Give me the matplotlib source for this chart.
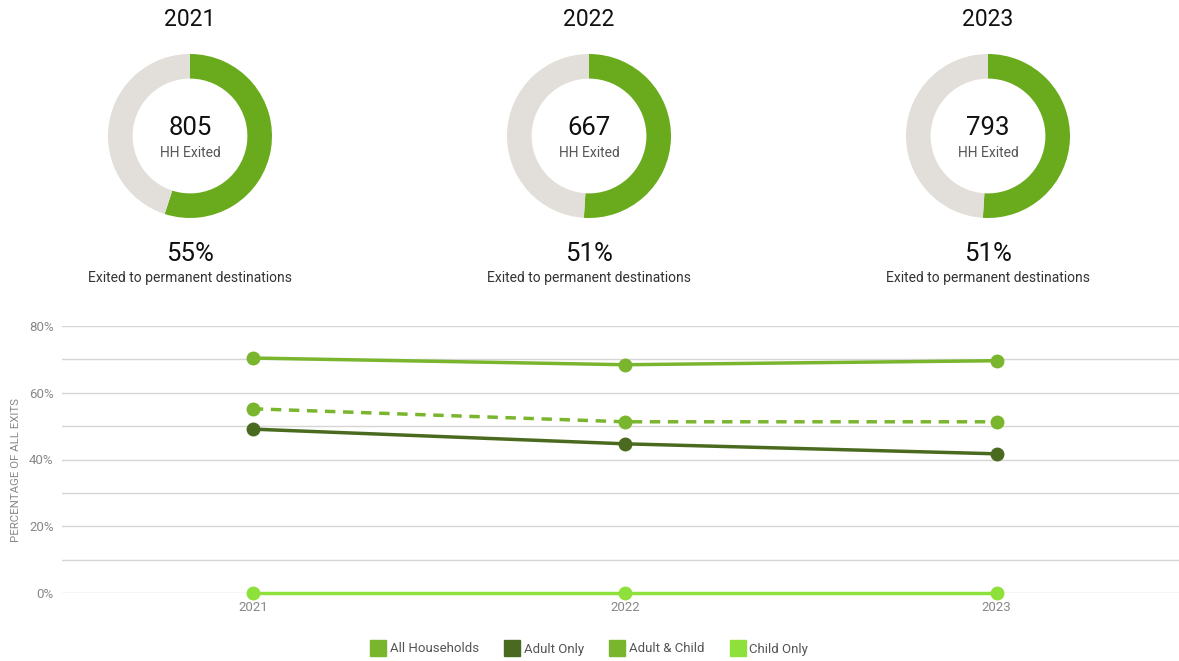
import numpy as np
import matplotlib.pyplot as plt
from matplotlib.lines import Line2D

plt.rcParams['font.family'] = ['Roboto', 'DejaVu Sans']

years = ['2021', '2022', '2023']
hh_exited = [805, 667, 793]
pct_permanent = [55, 51, 51]

all_households = [55.2, 51.3, 51.3]
adult_only = [49.1, 44.7, 41.7]
adult_child = [70.4, 68.4, 69.6]
child_only = [0, 0, 0]

green = '#6aab1e'
grey_ring = '#e2ded9'
c_all = '#7ab52e'
c_adult = '#4a6b1f'
c_ac = '#7ab52e'
c_child = '#8ee03a'

W, H = 1179, 661
fig = plt.figure(figsize=(W / 100, H / 100), dpi=100)

# donuts
centers = [190, 589, 988]
cy, r = 136, 82
for cx, yr, n, p in zip(centers, years, hh_exited, pct_permanent):
    dax = fig.add_axes([(cx - r) / W, (H - cy - r) / H, 2 * r / W, 2 * r / H])
    dax.pie([p, 100 - p], colors=[green, grey_ring], startangle=90, counterclock=False,
            radius=1, wedgeprops=dict(width=0.3, linewidth=0))
    dax.set_xlim(-1, 1)
    dax.set_ylim(-1, 1)
    dax.set_aspect('equal')
    dax.axis('off')
    fig.text(cx / W, 1 - 20 / H, yr, ha='center', va='center', fontsize=16.5, color='#111111')
    fig.text(cx / W, 1 - 128 / H, str(n), ha='center', va='center', fontsize=18.5, color='#111111')
    fig.text(cx / W, 1 - 153 / H, 'HH Exited', ha='center', va='center', fontsize=10, color='#555555')
    fig.text(cx / W, 1 - 254 / H, f'{p}%', ha='center', va='center', fontsize=18.5, color='#111111')
    fig.text(cx / W, 1 - 278 / H, 'Exited to permanent destinations', ha='center', va='center',
             fontsize=10, color='#333333')

# line chart
ax = fig.add_axes([62 / W, (H - 593) / H, (W - 62) / W, (593 - 326) / H])
x = np.arange(len(years))
ax.plot(x, adult_child, color=c_ac, lw=2.5, marker='o', ms=9, zorder=3)
ax.plot(x, all_households, color=c_all, lw=2.5, ls=(0, (3, 2.2)), marker='o', ms=9, zorder=3)
ax.plot(x, adult_only, color=c_adult, lw=2.5, marker='o', ms=9, zorder=3)
ax.plot(x, child_only, color=c_child, lw=2.5, marker='o', ms=9, zorder=3, clip_on=False)

ax.set_xlim(-0.513, 2.49)
ax.set_ylim(0, 80)
ax.set_xticks(x)
ax.set_xticklabels(years)
ax.set_yticks(np.arange(0, 81, 20))
ax.set_yticklabels([f'{v}%' for v in range(0, 81, 20)])
for v in range(0, 81, 10):
    ax.axhline(v, color='#d6d6d6', lw=1, zorder=1)
ax.tick_params(length=0, colors='#888888', labelsize=9.5, pad=6)
for s in ax.spines.values():
    s.set_visible(False)
ax.set_ylabel('PERCENTAGE OF ALL EXITS', color='#888888', fontsize=8.2)
ax.yaxis.set_label_coords(-0.037, 0.46)

handles = [Line2D([], [], ls='none', marker='s', ms=12, color=c) for c in [c_all, c_adult, c_ac, c_child]]
fig.legend(handles, ['All Households', 'Adult Only', 'Adult & Child', 'Child Only'],
           loc='center', bbox_to_anchor=(590 / W, 1 - 649 / H), ncol=4, frameon=False,
           fontsize=9.5, labelcolor='#555555', handletextpad=0.4, columnspacing=2.0,
           handlelength=1.0)

fig.savefig('out.png', dpi=100)
